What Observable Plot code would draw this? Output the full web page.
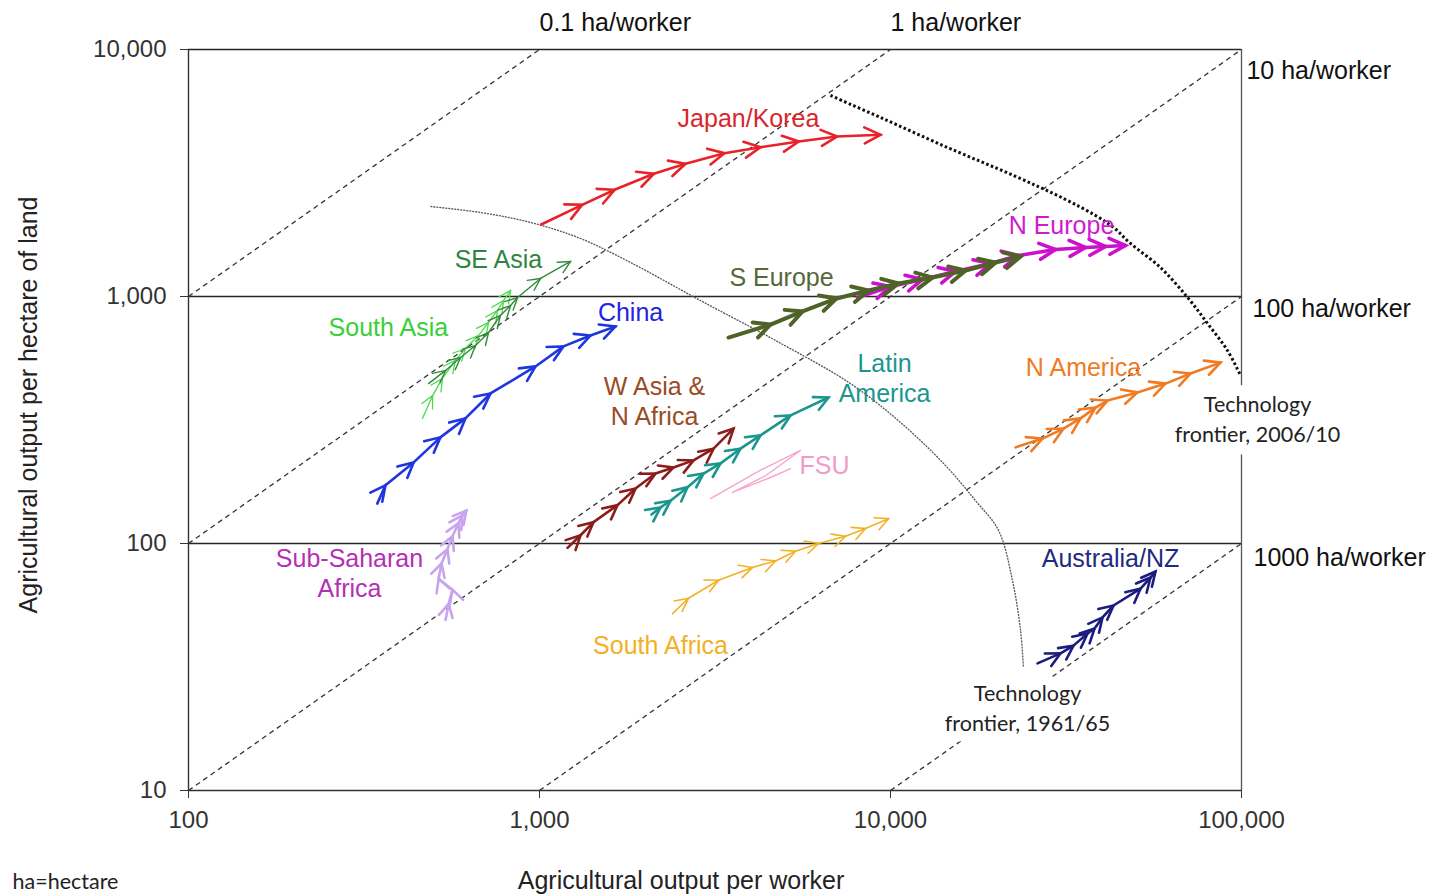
<!DOCTYPE html>
<html><head><meta charset="utf-8">
<script src="https://cdn.jsdelivr.net/npm/d3@7"></script>
<script src="https://cdn.jsdelivr.net/npm/@observablehq/plot@0.6"></script>
<style>html,body{margin:0;padding:0;background:#fff;} #chart svg{display:block;}</style>
</head><body><div id="chart"></div>
<script>
// ---------- axis ticks ----------
const xTicks = [100, 1000, 10000, 100000];
const yTicks = [10, 100, 1000, 10000];

// ---------- ha/worker reference lines ----------
const haValues = [0.1, 1, 10, 100, 1000];
const haLabels = ["0.1 ha/worker", "1 ha/worker", "10 ha/worker", "100 ha/worker", "1000 ha/worker"];
const haLabelX = [1000, 10000, 103300, 107500, 108200];
const haLabelY = [12860, 12860, 8222, 886, 87];

// ---------- region trajectories (1961/65 ... 2006/10) ----------
const japanKoreaX = [1011, 1323, 1636, 2117, 2606, 3365, 4262, 5478, 7048, 9366];
const japanKoreaY = [1956, 2351, 2704, 3139, 3445, 3804, 4022, 4241, 4444, 4515];
const seAsiaX = [483, 540, 596, 657, 716, 774, 827, 866, 1007, 1226];
const seAsiaY = [444, 502, 566, 633, 715, 838, 919, 991, 1183, 1386];
const southAsiaX = [464, 496, 529, 576, 615, 670, 716, 759, 790, 827];
const southAsiaY = [321, 397, 466, 551, 616, 695, 785, 878, 963, 1057];
const chinaX = [345, 364, 438, 522, 615, 725, 974, 1170, 1397, 1646];
const chinaY = [145, 172, 213, 269, 321, 405, 521, 628, 695, 756];
const nEuropeX = [8054, 10000, 12330, 15320, 19270, 23160, 29530, 35950, 40980, 46720];
const nEuropeY = [991, 1098, 1172, 1262, 1360, 1466, 1550, 1579, 1594, 1609];
const sEuropeX = [3455, 4550, 5615, 7020, 8660, 10540, 13170, 16360, 19920, 23470];
const sEuropeY = [682, 770, 870, 982, 1057, 1129, 1194, 1274, 1373, 1452];
const wAsiaX = [1202, 1309, 1425, 1668, 1877, 2140, 2408, 2746, 3131, 3571];
const wAsiaY = [96, 108, 122, 143, 167, 192, 203, 217, 242, 292];
const latinX = [2085, 2212, 2362, 2641, 2933, 3279, 3737, 4262, 5190, 6660];
const latinY = [131, 140, 149, 169, 192, 211, 242, 274, 330, 390];
const nAmericaX = [22710, 27100, 31110, 34780, 38370, 41520, 50550, 60750, 71570, 87140];
const nAmericaY = [245, 266, 292, 321, 355, 379, 409, 444, 488, 540];
const ssAfricaX = [540, 551, 565, 516, 526, 547, 565, 588, 603, 619];
const ssAfricaY = [49, 57, 65, 72, 83, 95, 107, 121, 130, 136];
const sAfricaX = [2393, 2658, 3236, 4045, 4703, 5362, 6236, 7442, 8486, 9870];
const sAfricaY = [52, 60, 71, 80, 85, 93, 100, 107, 115, 126];
const ausX = [26230, 30500, 33220, 36420, 38130, 40180, 43190, 51560, 55050, 56890];
const ausY = [32.7, 35.9, 38.6, 43.2, 45.3, 50.2, 56.1, 65.7, 72.8, 77];
const fsuX = [3070, 4262, 5540, 4405, 3548, 4550, 5190];
const fsuY = [152, 198, 238, 188, 161, 185, 201];

// ---------- technology frontiers ----------
const frontier61X = [489, 679, 943, 1309, 1817, 2875, 4766, 7691, 10680, 14340, 17470, 20310, 22260, 23470, 23920];
const frontier61Y = [2314, 2188, 1994, 1717, 1373, 963, 657, 444, 309, 207, 149, 113, 70.8, 44.4, 31.5];
const frontier06X = [6745, 9366, 14540, 22410, 31110, 38370, 43190, 48290, 58770, 70200, 80030, 91230, 99360];
const frontier06Y = [6513, 5305, 4011, 3090, 2494, 2128, 1903, 1639, 1310, 991, 778, 604, 479];

// ---------- region labels ----------
const regionLabels = ["Japan/Korea", "SE Asia", "South Asia", "China", "S Europe", "N Europe", "W Asia &\nN Africa", "Latin\nAmerica", "FSU", "N America", "Sub-Saharan\nAfrica", "South Africa", "Australia/NZ"];
const regionLabelX = [3939, 764, 371, 1817, 4893, 30700, 2127, 9614, 6486, 35470, 287.5, 2212, 42350];
const regionLabelY = [5305, 1425, 756, 870, 1205, 1956, 379, 470, 209, 521, 76.3, 39, 87.8];

const frontierLabels = ["Technology\nfrontier, 2006/10", "Technology\nfrontier, 1961/65"];
const frontierLabelX = [111100, 24570];
const frontierLabelY = [324, 21.9];

// ---------- styles (kept apart from data) ----------
const labelColor = {
  "Japan/Korea": "#d9262c", "SE Asia": "#2e8540", "South Asia": "#38d038", "China": "#2323e0",
  "S Europe": "#56683a", "N Europe": "#d21ad2", "W Asia &\nN Africa": "#9b4a24", "Latin\nAmerica": "#1b968f",
  "FSU": "#f09cc8", "N America": "#f07b23", "Sub-Saharan\nAfrica": "#b52fb5", "South Africa": "#f2b125",
  "Australia/NZ": "#1f2a80"
};

const series = [
  {name: "N Europe", x: nEuropeX, y: nEuropeY, color: "#cc11cc", width: 3.6, len: 16, half: 8},
  {name: "S Europe", x: sEuropeX, y: sEuropeY, color: "#4f6228", width: 4, len: 16, half: 8},
  {name: "Japan/Korea", x: japanKoreaX, y: japanKoreaY, color: "#e8222a", width: 2.6, len: 16, half: 8},
  {name: "South Asia", x: southAsiaX, y: southAsiaY, color: "#4cd94c", width: 1.3, len: 12, half: 6},
  {name: "SE Asia", x: seAsiaX, y: seAsiaY, color: "#2f8a3a", width: 1.4, len: 12, half: 6},
  {name: "China", x: chinaX, y: chinaY, color: "#1f35e0", width: 2.6, len: 15, half: 7.5},
  {name: "W Asia & N Africa", x: wAsiaX, y: wAsiaY, color: "#8b1c1c", width: 2.6, len: 14, half: 7},
  {name: "Latin America", x: latinX, y: latinY, color: "#1b968f", width: 2.6, len: 14, half: 7},
  {name: "N America", x: nAmericaX, y: nAmericaY, color: "#f07b23", width: 2.6, len: 15, half: 7.5},
  {name: "Sub-Saharan Africa", x: ssAfricaX, y: ssAfricaY, color: "#c8a4ef", width: 2.6, len: 13, half: 7},
  {name: "South Africa", x: sAfricaX, y: sAfricaY, color: "#f2b125", width: 1.6, len: 13, half: 6.5},
  {name: "Australia/NZ", x: ausX, y: ausY, color: "#1c1c7f", width: 2.6, len: 14, half: 7}
];

const toRows = (xs, ys) => xs.map((x, i) => ({x, y: ys[i]}));

function chevron(len, half, sw) {
  return (color, context) => {
    const doc = (context && context.document) || document;
    const ns = "http://www.w3.org/2000/svg";
    const m = doc.createElementNS(ns, "marker");
    m.setAttribute("viewBox", `${-len - 6} ${-half - 6} ${len + 12} ${2 * half + 12}`);
    m.setAttribute("markerWidth", len + 12);
    m.setAttribute("markerHeight", 2 * half + 12);
    m.setAttribute("markerUnits", "userSpaceOnUse");
    m.setAttribute("refX", 0);
    m.setAttribute("refY", 0);
    m.setAttribute("orient", "auto");
    m.setAttribute("overflow", "visible");
    const p = doc.createElementNS(ns, "path");
    p.setAttribute("d", `M${-len},${-half}L0,0L${-len},${half}`);
    p.setAttribute("fill", "none");
    p.setAttribute("stroke", color);
    p.setAttribute("stroke-width", sw);
    p.setAttribute("stroke-linecap", "round");
    p.setAttribute("stroke-linejoin", "miter");
    m.appendChild(p);
    return m;
  };
}

// diagonal ha/worker lines, clipped to the axis domains
const diagRows = haValues.flatMap(ha => {
  const x1 = Math.max(100, 10 * ha), x2 = Math.min(100000, 10000 * ha);
  return [{ha, x: x1, y: x1 / ha}, {ha, x: x2, y: x2 / ha}];
});

function build(useCustom) {
  const marks = [
    Plot.ruleY([10000, 1000, 100], {stroke: "#262626", strokeWidth: 1.3}),
    Plot.ruleX([100000], {stroke: "#555", strokeWidth: 1.3}),
    Plot.line(diagRows, {x: "x", y: "y", z: "ha", stroke: "#333", strokeWidth: 1.3, strokeDasharray: "5,4", strokeLinecap: "butt"}),
    Plot.line(toRows(frontier61X, frontier61Y), {x: "x", y: "y", curve: "catmull-rom", stroke: "#555", strokeWidth: 1.3, strokeDasharray: "2,1", strokeLinecap: "butt"}),
    Plot.line(toRows(frontier06X, frontier06Y), {x: "x", y: "y", curve: "catmull-rom", stroke: "#111", strokeWidth: 3, strokeDasharray: "2.6,2.4", strokeLinecap: "butt"}),
    Plot.line(toRows(fsuX, fsuY), {x: "x", y: "y", stroke: "#f4a6cc", strokeWidth: 1.4})
  ];
  for (const s of series) {
    const mk = useCustom ? chevron(s.len, s.half, s.width) : "arrow";
    marks.push(Plot.line(toRows(s.x, s.y), {
      x: "x", y: "y", stroke: s.color, strokeWidth: s.width,
      markerMid: mk, markerEnd: mk
    }));
  }
  const labelRows = regionLabels.map((t, i) => ({t, x: regionLabelX[i], y: regionLabelY[i]}));
  marks.push(Plot.text(labelRows, {x: "x", y: "y", text: "t", fill: d => labelColor[d.t], fontSize: 25, lineHeight: 1.2, textAnchor: "middle", fontFamily: "'Liberation Sans', Arial, sans-serif"}));
  const haRows = haLabels.map((t, i) => ({t, x: haLabelX[i], y: haLabelY[i]}));
  marks.push(Plot.text(haRows, {x: "x", y: "y", text: "t", fill: "#111", fontSize: 25, textAnchor: "start"}));
  const fRows = frontierLabels.map((t, i) => ({t, x: frontierLabelX[i], y: frontierLabelY[i]}));
  marks.push(Plot.text(fRows, {x: "x", y: "y", text: "t", fill: "#222", stroke: "white", strokeWidth: 22, fontSize: 21.5, lineHeight: 1.38, fontFamily: "Lato, 'Open Sans', sans-serif", textAnchor: "middle"}));
  marks.push(
    Plot.axisX({ticks: xTicks, tickFormat: d3.format(","), tickSize: 8, tickPadding: 12, label: null, fontSize: 24}),
    Plot.axisY({ticks: yTicks, tickFormat: d3.format(","), tickSize: 8, tickPadding: 14, label: null, fontSize: 24}),
    Plot.ruleX([100], {stroke: "#333", strokeWidth: 1.4}),
    Plot.ruleY([10], {stroke: "#333", strokeWidth: 1.4}),
    Plot.text(["Agricultural output per worker"], {frameAnchor: "bottom", text: d => d, dx: -34, dy: 90, textAnchor: "middle", lineAnchor: "middle", fontSize: 25, fill: "#222"}),
    Plot.text(["Agricultural output per hectare of land"], {frameAnchor: "left", text: d => d, rotate: -90, dx: -160, dy: -15, textAnchor: "middle", lineAnchor: "middle", fontSize: 25, fill: "#222"}),
    Plot.text(["ha=hectare"], {frameAnchor: "bottom-left", text: d => d, dx: -176, dy: 92, textAnchor: "start", lineAnchor: "middle", fontSize: 21.5, fill: "#222", fontFamily: "Lato, 'Open Sans', sans-serif"})
  );
  return Plot.plot({
    width: 1437, height: 894,
    marginLeft: 188, marginRight: 196, marginTop: 49, marginBottom: 104,
    x: {type: "log", domain: [100, 100000]},
    y: {type: "log", domain: [10, 10000]},
    style: {fontFamily: "'Liberation Sans', Arial, sans-serif", fontSize: "24px", color: "#333", background: "white", overflow: "visible"},
    marks
  });
}

let chart;
try { chart = build(true); } catch (e) { console.error(e); chart = build(false); }
document.getElementById("chart").appendChild(chart);
</script>
</body></html>
